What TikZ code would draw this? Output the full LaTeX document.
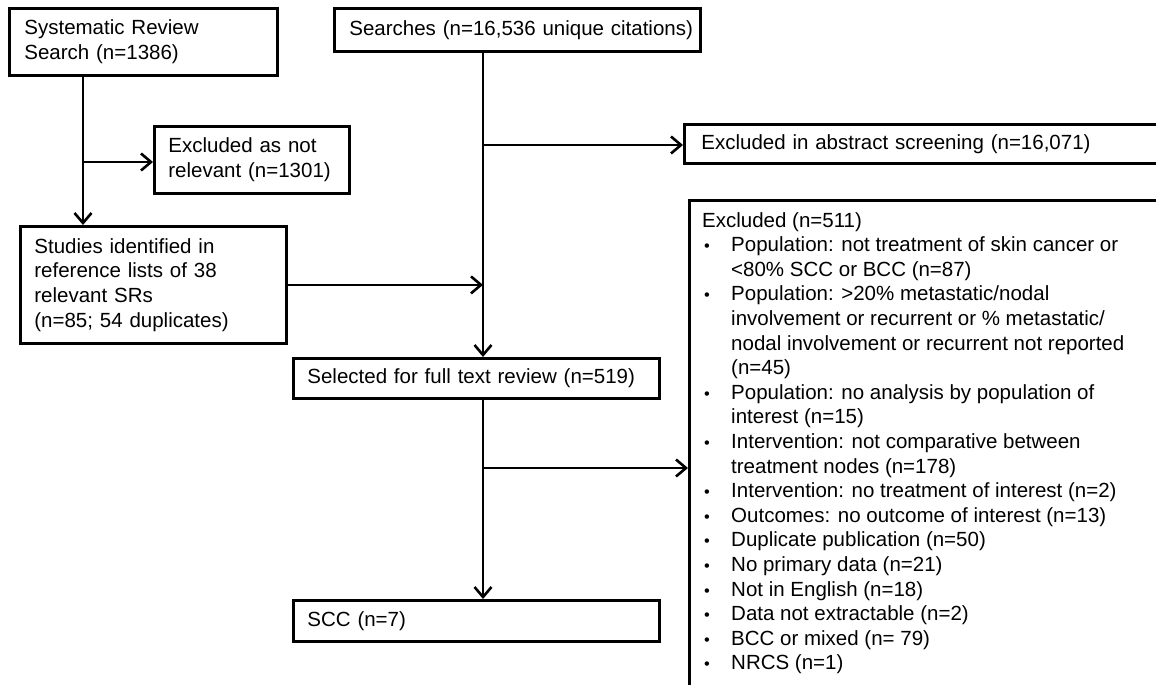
\documentclass[tikz,border=0pt]{standalone}
\usepackage{fontspec}
\setmainfont{Liberation Sans}
\usetikzlibrary{arrows.meta}
\begin{document}
\begin{tikzpicture}[x=1pt,y=-1pt,
  every node/.style={font=\fontsize{20.5}{24.6}\selectfont},
  box/.style={draw,line width=2.8pt,rectangle,anchor=north west,align=left,inner ysep=0pt},
  flow/.style={line width=2.8pt,-{Straight Barb[length=10pt,width=17pt,line width=2.6pt]}},
  plain/.style={line width=2.8pt}]
\useasboundingbox (0,0) rectangle (1156,685);
\clip (0,0) rectangle (1156,685);
\fill[white] (0,0) rectangle (1156,685);
% boxes
\node[box,minimum width=268pt,minimum height=67pt,text width=238pt,inner xsep=15pt] (sr) at (8,7) {Systematic Review\\Search (n=1386)};
\node[box,minimum width=366pt,minimum height=43pt,text width=336pt,inner xsep=15pt] (srch) at (333,7) {\mbox{Searches (n=16,536 unique citations)}};
\node[box,minimum width=195pt,minimum height=67pt,text width=167pt,inner xsep=14pt] (exnr) at (153,125) {Excluded as not\\relevant (n=1301)};
\node[box,minimum width=266pt,minimum height=117pt,text width=238pt,inner xsep=14pt] (stud) at (19,225) {Studies identified in\\reference lists of 38\\relevant SRs\\(n=85; 54 duplicates)};
\node[box,minimum width=500pt,minimum height=39pt,text width=480pt,inner xsep=17pt] (abs) at (683,123) {Excluded in abstract screening (n=16,071)};
\node[box,minimum width=366pt,minimum height=40pt,text width=338pt,inner xsep=14pt] (sel) at (292,357) {Selected for full text review (n=519)};
\node[box,minimum width=366pt,minimum height=41pt,text width=338pt,inner xsep=14pt] (scc) at (292,599) {SCC (n=7)};
\node[box,minimum width=500pt,minimum height=520pt] (ex) at (688,199) {};
\node[anchor=north west,align=left,inner sep=0pt] (extxt) at (702,212) {Excluded (n=511)\\
\makebox[29pt][l]{\hspace{2pt}\scalebox{0.8}{•}}Population: not treatment of skin cancer or\\
\hspace*{29pt}<80\% SCC or BCC (n=87)\\
\makebox[29pt][l]{\hspace{2pt}\scalebox{0.8}{•}}Population: >20\% metastatic/nodal\\
\hspace*{29pt}involvement or recurrent or \% metastatic/\\
\hspace*{29pt}nodal involvement or recurrent not reported\\
\hspace*{29pt}(n=45)\\
\makebox[29pt][l]{\hspace{2pt}\scalebox{0.8}{•}}Population: no analysis by population of\\
\hspace*{29pt}interest (n=15)\\
\makebox[29pt][l]{\hspace{2pt}\scalebox{0.8}{•}}Intervention: not comparative between\\
\hspace*{29pt}treatment nodes (n=178)\\
\makebox[29pt][l]{\hspace{2pt}\scalebox{0.8}{•}}Intervention: no treatment of interest (n=2)\\
\makebox[29pt][l]{\hspace{2pt}\scalebox{0.8}{•}}Outcomes: no outcome of interest (n=13)\\
\makebox[29pt][l]{\hspace{2pt}\scalebox{0.8}{•}}Duplicate publication (n=50)\\
\makebox[29pt][l]{\hspace{2pt}\scalebox{0.8}{•}}No primary data (n=21)\\
\makebox[29pt][l]{\hspace{2pt}\scalebox{0.8}{•}}Not in English (n=18)\\
\makebox[29pt][l]{\hspace{2pt}\scalebox{0.8}{•}}Data not extractable (n=2)\\
\makebox[29pt][l]{\hspace{2pt}\scalebox{0.8}{•}}BCC or mixed (n= 79)\\
\makebox[29pt][l]{\hspace{2pt}\scalebox{0.8}{•}}NRCS (n=1)};
% junctions
\coordinate (j1) at (83,162);
\coordinate (j2) at (483,145);
\coordinate (j3) at (483,468);
% connectors
\draw[flow] (sr.south -| j1) -- (stud.north -| j1);
\draw[flow] (j1) -- (j1 -| exnr.west);
\draw[plain] (srch.south -| j2) -- (j2);
\draw[flow] (j2) -- (sel.north -| j2);
\draw[flow] (j2) -- (j2 -| abs.west);
\draw[flow] (stud.east) -- (stud.east -| j2);
\draw[flow] (sel.south -| j3) -- (scc.north -| j3);
\draw[flow] (j3) -- (j3 -| ex.west);
\end{tikzpicture}
\end{document}
